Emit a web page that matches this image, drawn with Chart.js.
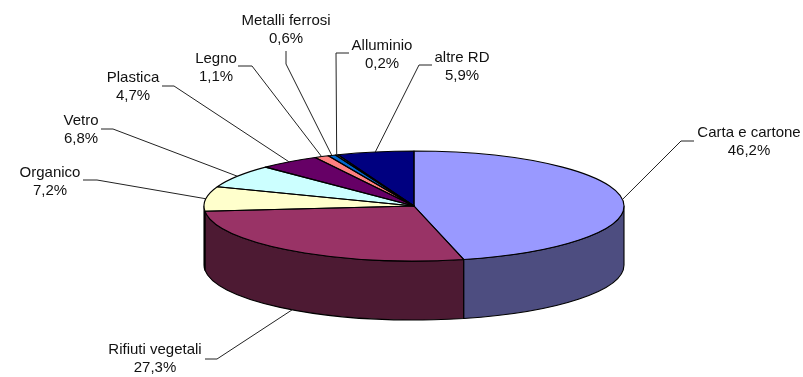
<!DOCTYPE html>
<html>
<head>
<meta charset="utf-8">
<style>
  html, body { margin: 0; padding: 0; background: #fff; }
  canvas { display: block; }
</style>
<script src="https://cdn.jsdelivr.net/npm/chart.js@4"></script>
</head>
<body>
<canvas id="myChart" width="803" height="377"></canvas>
<script>
const categories = ['Carta e cartone', 'Rifiuti vegetali', 'Organico', 'Vetro', 'Plastica', 'Legno', 'Metalli ferrosi', 'Alluminio', 'altre RD']
const values = [46.2, 27.3, 7.2, 6.8, 4.7, 1.1, 0.6, 0.2, 5.9]
const colors = ['#9999ff', '#993366', '#ffffcc', '#ccffff', '#660066', '#ff8080', '#0066cc', '#ccccff', '#000080']

// where the pie sits on the page: flattened disc and wall height
const disc = { x: 414, y: 206, rx: 210, ry: 55, depth: 59 }

// label layout, same order as categories
const labelX = [749, 155, 50, 81, 133, 216, 286, 382, 462]
const labelY = [133, 350, 173, 121, 78, 59, 21, 46, 58]
// start of each leader line and its elbow
const leaderStart = [[694, 141], [205, 359], [83, 180], [101, 129], [162, 86], [238, 66], [286, 51], [349, 53], [432, 65]]
const leaderElbow = [[681, 141], [217, 359], [97, 180], [113, 129], [174, 86], [252, 66], [286, 64], [336, 53], [419, 65]]

function darker(hex) {
  const n = parseInt(hex.slice(1), 16)
  const half = (v) => Math.round(v / 2)
  return `rgb(${half(n >> 16)},${half((n >> 8) & 255)},${half(n & 255)})`
}

function ellipsePoint(angle, dy) {
  return [disc.x + disc.rx * Math.cos(angle), disc.y + (dy || 0) + disc.ry * Math.sin(angle)]
}

const pie3d = {
  id: 'pie3d',
  // walls of the front half, below the library's slices
  beforeDatasetsDraw(chart) {
    const ctx = chart.ctx
    const arcs = chart.getDatasetMeta(0).data
    ctx.save()
    ctx.lineWidth = 1.1
    ctx.strokeStyle = '#000'
    ctx.lineJoin = 'round'
    arcs.forEach((arc, i) => {
      const from = Math.max(arc.startAngle, 0)
      const to = Math.min(arc.endAngle, Math.PI)
      if (to <= from) return
      ctx.beginPath()
      ctx.ellipse(disc.x, disc.y, disc.rx, disc.ry, 0, from, to)
      ctx.ellipse(disc.x, disc.y + disc.depth, disc.rx, disc.ry, 0, to, from, true)
      ctx.closePath()
      ctx.fillStyle = darker(colors[i])
      ctx.fill()
      ctx.stroke()
    })
    ctx.restore()
  },
  // squash the round pie into the disc
  beforeDatasetDraw(chart) {
    const ctx = chart.ctx
    const arc = chart.getDatasetMeta(0).data[0]
    ctx.save()
    ctx.translate(disc.x, disc.y)
    ctx.scale(disc.rx / arc.outerRadius, disc.ry / arc.outerRadius)
    ctx.translate(-arc.x, -arc.y)
  },
  afterDatasetDraw(chart) {
    chart.ctx.restore()
  },
  afterDatasetsDraw(chart) {
    const ctx = chart.ctx
    const arcs = chart.getDatasetMeta(0).data
    ctx.save()
    // slice outlines, kept even in width
    ctx.lineWidth = 1.1
    ctx.strokeStyle = '#000'
    ctx.lineJoin = 'round'
    arcs.forEach((arc) => {
      ctx.beginPath()
      ctx.moveTo(disc.x, disc.y)
      ctx.ellipse(disc.x, disc.y, disc.rx, disc.ry, 0, arc.startAngle, arc.endAngle)
      ctx.closePath()
      ctx.stroke()
    })

    // leaders and labels
    ctx.lineWidth = 1
    ctx.strokeStyle = '#222'
    ctx.fillStyle = '#111'
    ctx.font = '15px "Liberation Sans", Arial, sans-serif'
    ctx.textAlign = 'center'
    ctx.textBaseline = 'middle'
    arcs.forEach((arc, i) => {
      const mid = (arc.startAngle + arc.endAngle) / 2
      const onWall = mid > 0 && mid < Math.PI && Math.sin(mid) > 0.5
      const end = ellipsePoint(mid, onWall ? disc.depth : 0)
      ctx.beginPath()
      ctx.moveTo(leaderStart[i][0], leaderStart[i][1])
      ctx.lineTo(leaderElbow[i][0], leaderElbow[i][1])
      ctx.lineTo(end[0], end[1])
      ctx.stroke()
      ctx.fillText(categories[i], labelX[i], labelY[i])
      ctx.fillText(values[i].toFixed(1).replace('.', ',') + '%', labelX[i], labelY[i] + 18)
    })
    ctx.restore()
  },
}

new Chart(document.getElementById('myChart').getContext('2d'), {
  type: 'pie',
  data: {
    labels: categories,
    datasets: [
      {
        data: values,
        backgroundColor: colors,
        borderWidth: 0,
        clip: false,
      },
    ],
  },
  options: {
    responsive: false,
    animation: false,
    plugins: {
      legend: { display: false },
      tooltip: { enabled: false },
    },
  },
  plugins: [pie3d],
})
</script>
</body>
</html>
